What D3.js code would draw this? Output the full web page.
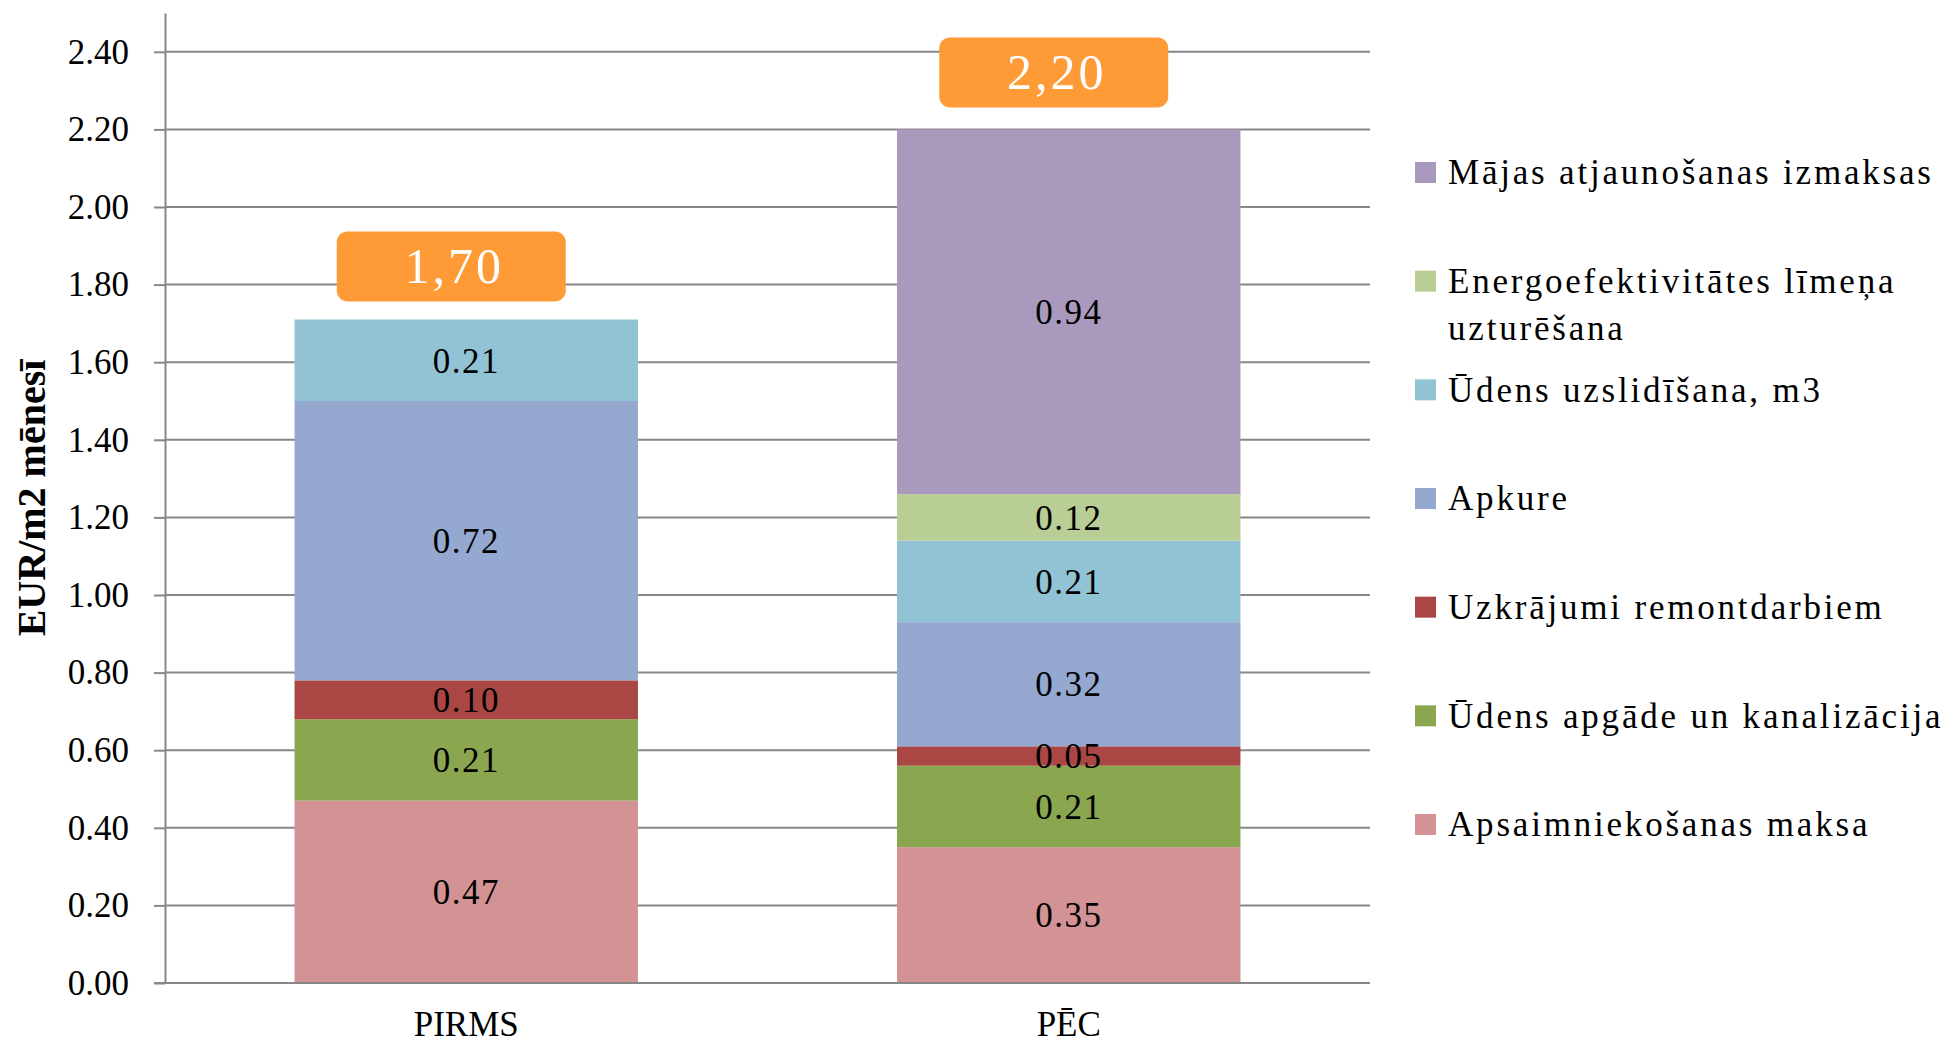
<!DOCTYPE html>
<html>
  <head>
    <meta charset="utf-8">
    <title>EUR/m2 mēnesī</title>
    <script src="https://cdn.jsdelivr.net/npm/d3@7"></script>
    <style>
      body { margin: 0; background: #fff; }
      svg { display: block; font-family: "Liberation Serif", serif; }
      .grid line { stroke: #878787; stroke-width: 2; }
      .axis path, .axis line { stroke: #878787; stroke-width: 2; }
      .axis text { font-size: 35px; fill: #000; font-family: "Liberation Serif", serif; }
      .value { font-size: 35px; fill: #000; letter-spacing: 1.5px; }
      .legend text { font-size: 35px; fill: #000; letter-spacing: 2.8px; }
    </style>
  </head>
  <body>
    <svg id="chart" width="1954" height="1046"></svg>
    <script>
      // data
      categories = ["PIRMS", "PĒC"];
      totals = ["1,70", "2,20"];
      totalValues = [1.70, 2.20];
      seriesNames = [
        "Apsaimniekošanas maksa",
        "Ūdens apgāde un kanalizācija",
        "Uzkrājumi remontdarbiem",
        "Apkure",
        "Ūdens uzslidīšana, m3",
        "Energoefektivitātes līmeņa uzturēšana",
        "Mājas atjaunošanas izmaksas"
      ];
      apsaimniekosana = [0.47, 0.35];
      udensApgade = [0.21, 0.21];
      uzkrajumi = [0.10, 0.05];
      apkure = [0.72, 0.32];
      udensUzsildisana = [0.21, 0.21];
      energoefektivitate = [0, 0.12];
      majasAtjaunosana = [0, 0.94];
      seriesColors = ["#d39293", "#8aa64e", "#aa4745", "#94a8d0", "#92c3d4", "#b8ce95", "#a99abd"];
      yTicks = [0, 0.2, 0.4, 0.6, 0.8, 1.0, 1.2, 1.4, 1.6, 1.8, 2.0, 2.2, 2.4];
      yTitle = "EUR/m2 mēnesī";

      seriesValues = [apsaimniekosana, udensApgade, uzkrajumi, apkure, udensUzsildisana, energoefektivitate, majasAtjaunosana];
      rows = categories.map(function(c, i) {
        let row = { category: c };
        seriesNames.forEach(function(s, j) { row[s] = seriesValues[j][i]; });
        return row;
      });

      chart = d3.select("#chart");
      margin = { left: 165, right: 1370, top: 13, bottom: 983 };

      // scales
      x = d3.scaleBand()
        .domain(categories)
        .range([margin.left, margin.right])
        .paddingInner(0.43)
        .paddingOuter(0.215);
      y = d3.scaleLinear()
        .domain([0, 2.5])
        .range([margin.bottom, margin.top]);

      // gridlines
      chart.append("g")
        .attr("class", "grid")
        .selectAll("line")
        .data(yTicks.filter(function(d) { return d > 0; }))
        .join("line")
        .attr("x1", margin.left)
        .attr("x2", margin.right)
        .attr("y1", function(d) { return y(d); })
        .attr("y2", function(d) { return y(d); });

      // stacked bars
      stack = d3.stack().keys(seriesNames);
      layers = stack(rows);
      barGroup = chart.append("g");
      layers.forEach(function(layer, j) {
        barGroup.append("g")
          .attr("fill", seriesColors[j])
          .selectAll("rect")
          .data(layer.filter(function(d) { return d[1] - d[0] > 0; }))
          .join("rect")
          .attr("x", function(d) { return x(d.data.category); })
          .attr("width", x.bandwidth())
          .attr("y", function(d) { return y(d[1]); })
          .attr("height", function(d) { return y(d[0]) - y(d[1]); });
      });

      // axes
      yAxis = d3.axisLeft(y)
        .tickValues(yTicks)
        .tickFormat(d3.format(".2f"))
        .tickSize(11)
        .tickPadding(25)
        .tickSizeOuter(0);
      chart.append("g")
        .attr("class", "axis")
        .attr("transform", "translate(" + margin.left + ",0)")
        .call(yAxis);
      xAxis = d3.axisBottom(x)
        .tickSize(0)
        .tickPadding(28)
        .tickSizeOuter(0);
      xg = chart.append("g")
        .attr("class", "axis")
        .attr("transform", "translate(0," + margin.bottom + ")")
        .call(xAxis);
      xg.select(".domain").attr("d", "M" + (margin.left - 11) + ",0H" + margin.right);
      xg.selectAll("text").attr("dy", "0.71em");

      // value labels
      layers.forEach(function(layer) {
        chart.append("g")
          .selectAll("text")
          .data(layer.filter(function(d) { return d[1] - d[0] > 0; }))
          .join("text")
          .attr("class", "value")
          .attr("text-anchor", "middle")
          .attr("x", function(d) { return x(d.data.category) + x.bandwidth() / 2; })
          .attr("y", function(d) { return (y(d[0]) + y(d[1])) / 2; })
          .attr("dy", "0.35em")
          .text(function(d) { return (d[1] - d[0]).toFixed(2); });
      });

      // total badges
      badges = chart.append("g")
        .selectAll("g")
        .data(categories)
        .join("g")
        .attr("transform", function(d, i) {
          return "translate(" + (x(d) + x.bandwidth() / 2 - 15) + "," + (y(totalValues[i]) - 22 - 35) + ")";
        });
      badges.append("rect")
        .attr("x", -114.5)
        .attr("y", -35)
        .attr("width", 229)
        .attr("height", 70)
        .attr("rx", 11)
        .attr("fill", "#ff9b36");
      badges.append("text")
        .attr("x", 3)
        .attr("dy", "0.34em")
        .attr("text-anchor", "middle")
        .attr("fill", "#fff")
        .style("font-size", "50px")
        .style("letter-spacing", "3px")
        .text(function(d, i) { return totals[i]; });

      // y title
      chart.append("text")
        .attr("transform", "translate(45," + ((margin.top + margin.bottom) / 2) + ") rotate(-90)")
        .attr("text-anchor", "middle")
        .style("font-size", "40px")
        .style("font-weight", "bold")
        .text(yTitle);

      // legend (top entry = top of stack)
      legendKeys = seriesNames.slice().reverse();
      legendY = d3.scalePoint()
        .domain(legendKeys)
        .range([172, 824]);
      legend = chart.append("g").attr("class", "legend");
      items = legend.selectAll("g")
        .data(legendKeys)
        .join("g")
        .attr("transform", function(d) { return "translate(1415," + legendY(d) + ")"; });
      items.append("rect")
        .attr("x", 0)
        .attr("y", -10)
        .attr("width", 21)
        .attr("height", 21)
        .attr("fill", function(d) { return seriesColors[seriesNames.indexOf(d)]; });
      items.append("text")
        .attr("x", 33)
        .attr("dy", "0.35em")
        .each(function(d) {
          // wrap long names
          let el = d3.select(this);
          let words = d.split(" ");
          let line = [];
          let tspan = el.append("tspan").attr("x", 33);
          words.forEach(function(w) {
            line.push(w);
            tspan.text(line.join(" "));
            if (tspan.node().getComputedTextLength() > 560 && line.length > 1) {
              line.pop();
              tspan.text(line.join(" "));
              line = [w];
              tspan = el.append("tspan").attr("x", 33).attr("dy", 47).text(w);
            }
          });
        });
    </script>
  </body>
</html>
